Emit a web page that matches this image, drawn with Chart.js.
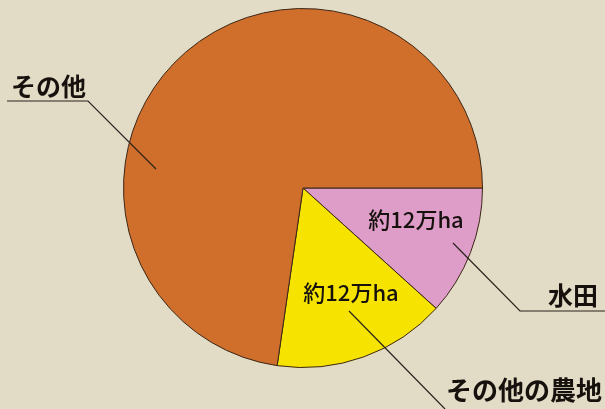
<!DOCTYPE html>
<html>
<head>
<meta charset="utf-8">
<script src="https://cdn.jsdelivr.net/npm/chart.js@4"></script>
<style>
  html, body { margin: 0; padding: 0; background: #e2dbc5; }
  canvas { display: block; }
</style>
</head>
<body>
<canvas id="landChart" width="605" height="409"></canvas>
<script>
// 面積の内訳（図から読み取った割合）
const categories = ['水田', 'その他の農地', 'その他'];
const shares = [11.7, 15.6, 72.7];
const sliceLabels = ['約12万ha', '約12万ha', ''];
const sliceColors = ['#de9cc9', '#f6e400', '#cf6f2b'];

// ラベルと引き出し線
const calloutPlugin = {
    id: 'callouts',
    afterDraw(chart) {
        const ctx = chart.ctx;
        ctx.save();
        ctx.fillStyle = '#16110d';
        ctx.strokeStyle = '#2a221c';
        ctx.lineWidth = 1.2;
        ctx.textBaseline = 'middle';

        // 円の中のラベル
        ctx.font = '500 22px "Noto Sans CJK JP"';
        ctx.textAlign = 'center';
        ctx.fillText(sliceLabels[0], 416, 220);
        ctx.fillText(sliceLabels[1], 351, 293);

        // その他
        ctx.font = 'bold 25px "Noto Sans CJK JP"';
        ctx.textAlign = 'left';
        ctx.fillText(categories[2], 11, 86);
        ctx.beginPath();
        ctx.moveTo(7, 101); ctx.lineTo(88, 101); ctx.lineTo(156, 169);
        ctx.stroke();

        // 水田
        ctx.fillText(categories[0], 548, 295);
        ctx.beginPath();
        ctx.moveTo(453, 243); ctx.lineTo(520, 311); ctx.lineTo(605, 311);
        ctx.stroke();

        // その他の農地
        ctx.font = 'bold 26px "Noto Sans CJK JP"';
        ctx.fillText(categories[1], 446, 390);
        ctx.beginPath();
        ctx.moveTo(349, 311); ctx.lineTo(445, 409);
        ctx.stroke();

        ctx.restore();
    }
};

const landCtx = document.getElementById('landChart').getContext('2d');
new Chart(landCtx, {
    type: 'pie',
    data: {
        labels: categories,
        datasets: [{
            data: shares,
            backgroundColor: sliceColors,
            borderColor: '#3b2616',
            borderWidth: 1
        }]
    },
    options: {
        responsive: false,
        animation: false,
        rotation: 90,
        layout: { padding: { top: 8, bottom: 41, left: 123, right: 122 } },
        plugins: {
            legend: { display: false },
            tooltip: { enabled: false }
        }
    },
    plugins: [calloutPlugin]
});
</script>
</body>
</html>
